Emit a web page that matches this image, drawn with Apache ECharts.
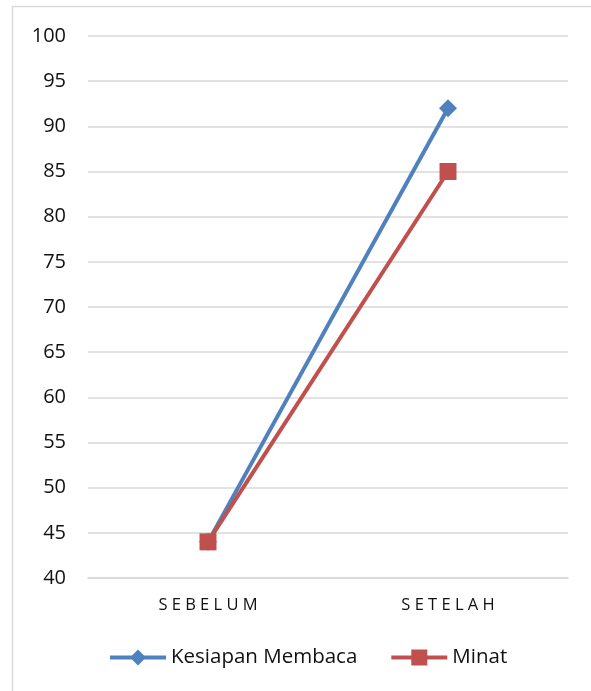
<!DOCTYPE html>
<html>
<head>
<meta charset="utf-8">
<script src="https://cdn.jsdelivr.net/npm/echarts@6/dist/echarts.min.js"></script>
<style>
  html, body { margin: 0; padding: 0; background: #fff; }
  #chart { width: 591px; height: 691px; }
</style>
</head>
<body>
<div id="chart"></div>
<script>
// Category labels and series values
var categories = ['S E B E L U M', 'S E T E L A H'];
var kesiapanMembaca = [44, 92];
var minat = [44, 85];
var seriesNames = ['Kesiapan Membaca', 'Minat'];

var chart = echarts.init(document.getElementById('chart'), null, { renderer: 'canvas' });

var font = '"Open Sans", "Noto Sans", sans-serif';
var blue = '#4f81bd';
var red = '#c0504d';

chart.setOption({
  animation: false,
  backgroundColor: '#ffffff',
  graphic: [{
    type: 'rect',
    shape: { x: 12.5, y: 6.5, width: 600, height: 700 },
    style: { fill: 'none', stroke: '#d9d9d9', lineWidth: 1.5 },
    silent: true
  }],
  grid: { left: 88, right: 23, top: 36, bottom: 113, containLabel: false },
  xAxis: {
    type: 'category',
    data: categories,
    boundaryGap: true,
    axisLine: { show: true, lineStyle: { color: '#d9d9d9', width: 1.5 } },
    axisTick: { show: false },
    axisLabel: { color: '#111111', fontSize: 16.5, fontFamily: font, margin: 19 }
  },
  yAxis: {
    type: 'value',
    min: 40,
    max: 100,
    interval: 5,
    axisLine: { show: false },
    axisTick: { show: false },
    splitLine: { lineStyle: { color: '#d9d9d9', width: 1.5 } },
    axisLabel: { color: '#111111', fontSize: 20, fontFamily: font, margin: 22 }
  },
  legend: {
    bottom: 18,
    left: 103,
    itemWidth: 56,
    itemHeight: 20,
    itemGap: 32,
    textStyle: { color: '#111111', fontSize: 20.5, fontFamily: font },
    data: [
      { name: seriesNames[0], lineStyle: { width: 4 } },
      { name: seriesNames[1], lineStyle: { width: 4 } }
    ]
  },
  series: [{
    name: seriesNames[0],
    type: 'line',
    data: kesiapanMembaca,
    symbol: 'diamond',
    symbolSize: 18,
    lineStyle: { color: blue, width: 4 },
    itemStyle: { color: blue }
  }, {
    name: seriesNames[1],
    type: 'line',
    data: minat,
    symbol: 'rect',
    symbolSize: 17,
    lineStyle: { color: red, width: 4 },
    itemStyle: { color: red }
  }]
});
</script>
</body>
</html>
